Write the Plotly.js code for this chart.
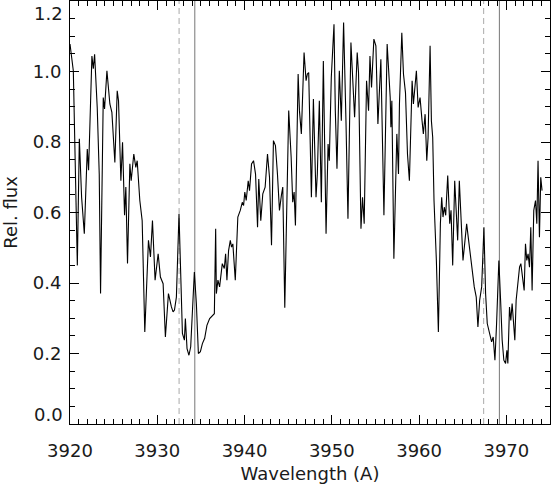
<!DOCTYPE html>
<html>
<head>
<meta charset="utf-8">
<script src="https://cdn.plot.ly/plotly-3.0.1.min.js"></script>
<style>
  html, body { margin: 0; padding: 0; background: #fff; }
  #plot { width: 553px; height: 484px; }
</style>
</head>
<body>
<div id="plot"></div>
<script>
// spectrum (wavelength in A, relative flux)
const wavelength = [
    3920.00, 3920.38, 3920.84, 3921.07, 3921.33, 3921.64, 3921.98, 3922.13, 3922.51, 3922.67,
    3922.82, 3923.12, 3923.35, 3923.50, 3923.81, 3923.96, 3924.23, 3924.57, 3924.80, 3924.88,
    3925.14, 3925.41, 3925.56, 3925.83, 3926.02, 3926.25, 3926.40, 3926.59, 3926.86, 3927.01,
    3927.31, 3927.54, 3927.70, 3928.00, 3928.27, 3928.57, 3928.99, 3929.22, 3929.45, 3929.75,
    3930.10, 3930.36, 3930.67, 3930.93, 3931.28, 3931.62, 3931.81, 3931.97, 3932.19, 3932.49,
    3932.69, 3932.88, 3933.11, 3933.22, 3933.41, 3933.63, 3933.83, 3934.02, 3934.25, 3934.48,
    3934.71, 3934.94, 3935.17, 3935.43, 3935.69, 3936.00, 3936.31, 3936.54, 3936.69, 3936.77,
    3936.95, 3937.14, 3937.45, 3937.68, 3937.83, 3937.98, 3938.17, 3938.37, 3938.51, 3938.66,
    3938.94, 3939.23, 3939.51, 3939.74, 3939.89, 3940.03, 3940.19, 3940.42, 3940.57, 3940.80,
    3941.03, 3941.26, 3941.49, 3941.63, 3941.86, 3942.09, 3942.36, 3942.63, 3942.86, 3943.09,
    3943.31, 3943.54, 3943.77, 3944.00, 3944.23, 3944.38, 3944.61, 3944.83, 3945.06, 3945.34,
    3945.52, 3945.68, 3945.83, 3946.14, 3946.29, 3946.51, 3946.82, 3947.05, 3947.20, 3947.35,
    3947.66, 3947.89, 3948.19, 3948.34, 3948.57, 3948.80, 3949.03, 3949.34, 3949.57, 3949.71,
    3949.94, 3950.25, 3950.40, 3950.59, 3950.86, 3951.09, 3951.35, 3951.62, 3951.85, 3952.19,
    3952.38, 3952.61, 3952.91, 3953.06, 3953.34, 3953.52, 3953.71, 3953.98, 3954.21, 3954.37,
    3954.55, 3954.82, 3955.05, 3955.28, 3955.62, 3955.97, 3956.34, 3956.69, 3956.77, 3956.88,
    3957.11, 3957.45, 3957.64, 3957.75, 3958.02, 3958.21, 3958.44, 3958.67, 3958.89, 3959.20,
    3959.35, 3959.51, 3959.69, 3959.89, 3960.11, 3960.34, 3960.49, 3960.69, 3960.88, 3961.03,
    3961.26, 3961.41, 3961.56, 3961.71, 3961.98, 3962.21, 3962.44, 3962.59, 3962.74, 3962.89,
    3963.05, 3963.28, 3963.51, 3963.66, 3963.85, 3964.08, 3964.26, 3964.42, 3964.61, 3964.80,
    3965.03, 3965.26, 3965.45, 3965.63, 3965.86, 3966.09, 3966.32, 3966.55, 3966.74, 3966.94,
    3967.17, 3967.43, 3967.62, 3967.81, 3968.08, 3968.31, 3968.49, 3968.69, 3968.88, 3969.03,
    3969.14, 3969.34, 3969.52, 3969.71, 3969.91, 3970.06, 3970.17, 3970.36, 3970.51, 3970.66,
    3970.82, 3970.97, 3971.12, 3971.31, 3971.51, 3971.66, 3971.89, 3972.04, 3972.19, 3972.34,
    3972.49, 3972.65, 3972.80, 3972.95, 3973.14, 3973.34, 3973.49, 3973.63, 3973.79, 3973.94,
    3974.09
];
const relFlux = [
    1.078, 1.002, 0.450, 0.809, 0.643, 0.540, 0.780, 0.720, 1.044, 1.008,
    1.049, 0.898, 0.709, 0.370, 0.926, 0.894, 1.002, 0.908, 0.884, 0.852,
    0.742, 0.945, 0.917, 0.690, 0.799, 0.592, 0.672, 0.455, 0.738, 0.690,
    0.766, 0.728, 0.747, 0.634, 0.577, 0.261, 0.521, 0.474, 0.577, 0.408,
    0.483, 0.417, 0.398, 0.247, 0.370, 0.332, 0.318, 0.323, 0.360, 0.596,
    0.389, 0.257, 0.238, 0.299, 0.214, 0.195, 0.219, 0.323, 0.431, 0.342,
    0.200, 0.205, 0.228, 0.243, 0.280, 0.299, 0.308, 0.313, 0.554, 0.370,
    0.408, 0.389, 0.455, 0.441, 0.483, 0.408, 0.492, 0.521, 0.502, 0.511,
    0.408, 0.587, 0.606, 0.629, 0.620, 0.658, 0.634, 0.690, 0.662, 0.738,
    0.747, 0.709, 0.558, 0.695, 0.577, 0.653, 0.672, 0.766, 0.700, 0.507,
    0.804, 0.790, 0.709, 0.606, 0.650, 0.672, 0.330, 0.606, 0.889, 0.757,
    0.629, 0.658, 0.563, 0.993, 0.889, 0.823, 1.054, 0.974, 0.993, 0.997,
    0.643, 0.922, 0.643, 0.709, 0.917, 0.629, 1.030, 0.540, 0.794, 0.747,
    0.983, 1.134, 0.889, 0.724, 1.002, 0.860, 1.139, 0.860, 0.582, 1.082,
    0.988, 0.870, 1.054, 0.997, 0.554, 0.643, 0.568, 0.974, 0.889, 1.044,
    0.955, 1.092, 1.073, 0.851, 1.035, 0.592, 1.078, 0.926, 0.842, 0.917,
    0.469, 0.823, 0.709, 0.908, 1.110, 0.993, 0.940, 0.766, 0.690, 0.974,
    0.908, 0.955, 1.002, 0.898, 0.926, 0.860, 0.823, 0.879, 0.747, 0.813,
    1.073, 0.860, 0.813, 0.634, 0.464, 0.261, 0.568, 0.643, 0.587, 0.615,
    0.592, 0.705, 0.568, 0.606, 0.450, 0.690, 0.606, 0.521, 0.690, 0.577,
    0.464, 0.521, 0.568, 0.530, 0.483, 0.427, 0.389, 0.360, 0.275, 0.351,
    0.389, 0.558, 0.370, 0.285, 0.257, 0.233, 0.247, 0.181, 0.285, 0.379,
    0.464, 0.351, 0.238, 0.181, 0.172, 0.209, 0.172, 0.332, 0.294, 0.342,
    0.285, 0.238, 0.351, 0.408, 0.445, 0.455, 0.408, 0.379, 0.511, 0.464,
    0.483, 0.445, 0.558, 0.379, 0.606, 0.634, 0.568, 0.747, 0.530, 0.700,
    0.662
];

// marker lines around Ca II K and H
const dashedLines = [3932.5, 3967.4];
const solidLines = [3934.3, 3969.2];

const yTickVals = [0.0, 0.2, 0.4, 0.6, 0.8, 1.0, 1.2];
const yTickText = ['0.0', '0.2', '0.4', '0.6', '0.8', '1.0', '1.2'];

const font = { family: 'DejaVu Sans, sans-serif', size: 18, color: '#1a1a1a' };

const shapes = [];
for (const w of dashedLines) {
    shapes.push({
        type: 'line', xref: 'x', yref: 'paper', x0: w, x1: w, y0: 0, y1: 1,
        line: { color: '#aaaaaa', width: 1, dash: '6px,4px' }, layer: 'below'
    });
}
for (const w of solidLines) {
    shapes.push({
        type: 'line', xref: 'x', yref: 'paper', x0: w, x1: w, y0: 0, y1: 1,
        line: { color: '#777777', width: 1 }, layer: 'below'
    });
}

// the end labels sit inside the frame in the original, so draw them as annotations
const lastIdx = yTickVals.length - 1;
const annotations = [
    {
        xref: 'paper', yref: 'y', x: 0, y: yTickVals[lastIdx], text: yTickText[lastIdx],
        xanchor: 'right', yanchor: 'top', xshift: -5, yshift: 0, showarrow: false, font: font
    },
    {
        xref: 'paper', yref: 'y', x: 0, y: yTickVals[0], text: yTickText[0],
        xanchor: 'right', yanchor: 'bottom', xshift: -5, yshift: -3, showarrow: false, font: font
    }
];
const shownTickText = yTickText.map((t, i) => (i === 0 || i === lastIdx) ? '' : t);

const data = [{
    x: wavelength,
    y: relFlux,
    type: 'scatter',
    mode: 'lines',
    line: { color: '#000', width: 1.1 },
    hoverinfo: 'skip'
}];

const layout = {
    width: 553,
    height: 484,
    margin: { l: 70, r: 3, t: 1, b: 60 },
    paper_bgcolor: '#fff',
    plot_bgcolor: '#fff',
    showlegend: false,
    font: font,
    shapes: shapes,
    annotations: annotations,
    xaxis: {
        range: [3920, 3975],
        dtick: 10,
        tick0: 3920,
        ticks: 'inside',
        ticklen: 9,
        tickwidth: 1,
        tickcolor: '#000',
        ticklabelstandoff: 10,
        showline: true,
        mirror: 'ticks',
        linecolor: '#000',
        linewidth: 1,
        showgrid: false,
        zeroline: false,
        tickfont: font,
        minor: { dtick: 1, ticks: 'inside', ticklen: 5, tickcolor: '#000', showgrid: false },
        title: { text: 'Wavelength (A)', font: font, standoff: 8 }
    },
    yaxis: {
        range: [0, 1.2],
        tickvals: yTickVals,
        ticktext: shownTickText,
        ticks: 'inside',
        ticklen: 9,
        tickwidth: 1,
        tickcolor: '#000',
        ticklabelstandoff: 4,
        showline: true,
        mirror: 'ticks',
        linecolor: '#000',
        linewidth: 1,
        showgrid: false,
        zeroline: false,
        tickfont: font,
        minor: { dtick: 0.05, tick0: 0, ticks: 'inside', ticklen: 5, tickcolor: '#000', showgrid: false },
        title: { text: 'Rel. flux', font: font, standoff: 12 }
    }
};

Plotly.newPlot('plot', data, layout, { displayModeBar: false, staticPlot: true });
</script>
</body>
</html>
